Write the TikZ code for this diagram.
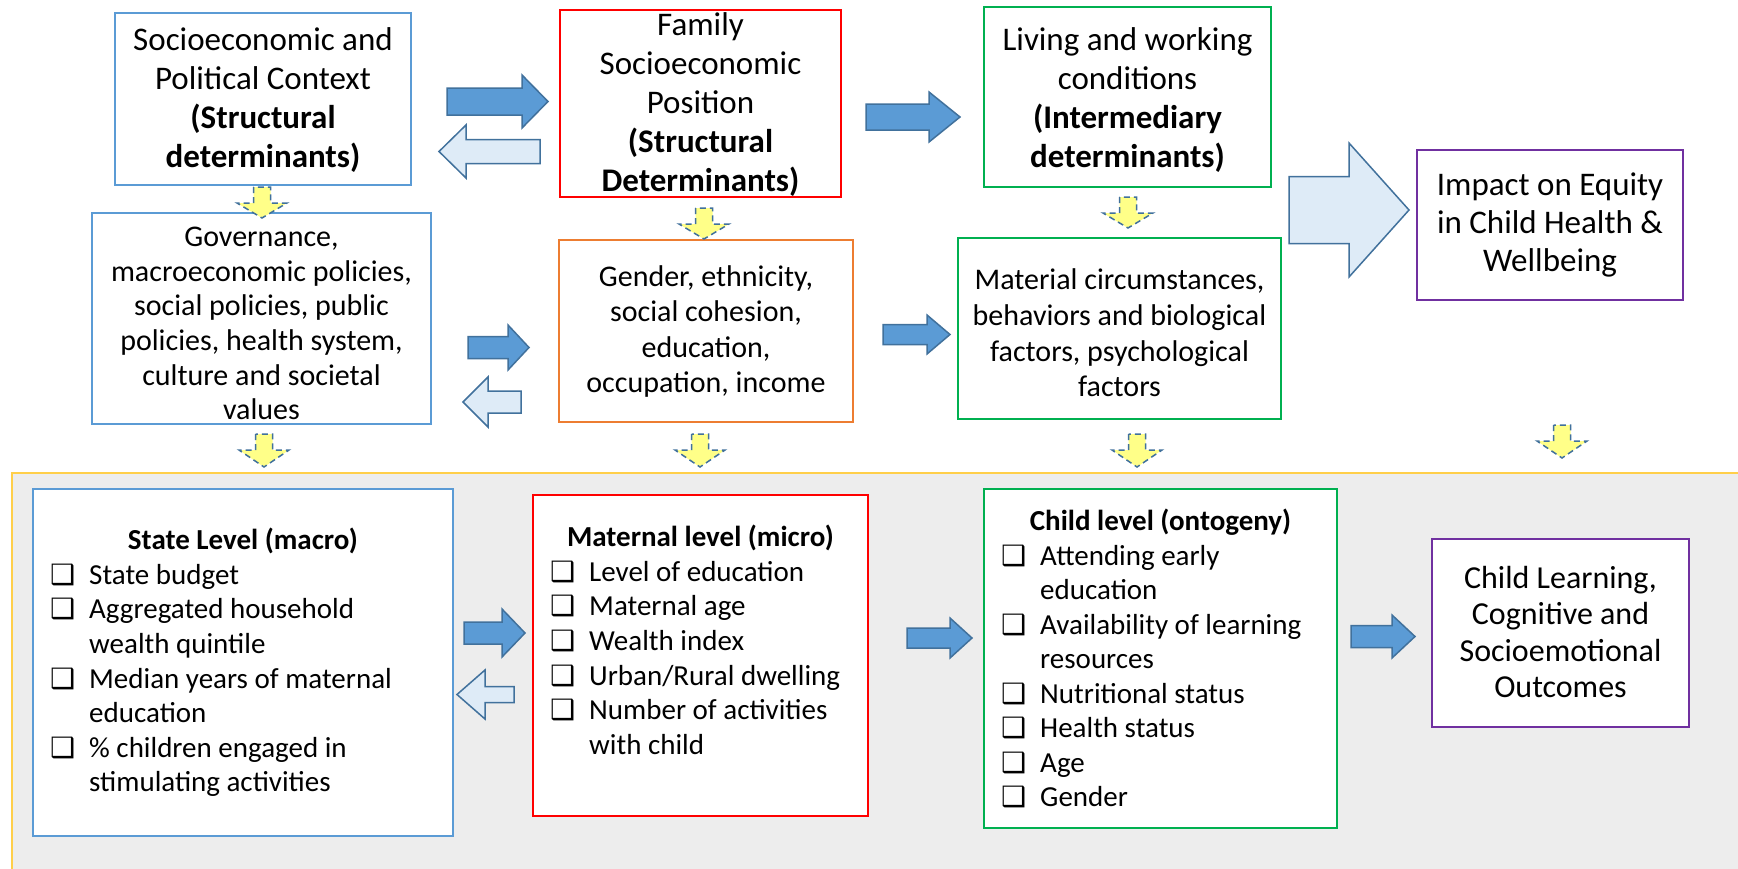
\documentclass[tikz,border=0pt]{standalone}
\usepackage{fontspec}
\setmainfont{Carlito}
\newfontfamily\dejavu{DejaVu Sans}
\definecolor{bxblue}{HTML}{5B9BD5}
\definecolor{bxred}{HTML}{FF0000}
\definecolor{bxgreen}{HTML}{00B050}
\definecolor{bxorange}{HTML}{ED7D31}
\definecolor{bxpurple}{HTML}{7030A0}
\definecolor{arrdark}{HTML}{5B9BD5}
\definecolor{arrlight}{HTML}{DEEBF7}
\definecolor{arrline}{HTML}{41719C}
\definecolor{yel}{HTML}{FFFF88}
\definecolor{bggray}{HTML}{EDEDED}
\definecolor{bgline}{HTML}{FFCF4A}
% horizontal block arrow: style, tail x, head-start x, tip x, centre y, head half-width, shaft half-width
\newcommand\harrow[7]{\path[#1] (#2,{#5-#7}) -- (#3,{#5-#7}) -- (#3,{#5-#6}) -- (#4,#5) -- (#3,{#5+#6}) -- (#3,{#5+#7}) -- (#2,{#5+#7}) -- cycle;}
% vertical block arrow: style, tail y, head-start y, tip y, centre x, head half-width, shaft half-width
\newcommand\varrow[7]{\path[#1] ({#5-#7},#2) -- ({#5-#7},#3) -- ({#5-#6},#3) -- (#5,#4) -- ({#5+#6},#3) -- ({#5+#7},#3) -- ({#5+#7},#2) -- cycle;}
\newcommand\cbx{{\dejavu\bfseries\fontsize{28pt}{28pt}\selectfont ❑}}
\newcommand\itm[1]{\strut\makebox[39pt][l]{\cbx}#1}
\newcommand\cnt[1]{\strut\hspace*{39pt}#1}
\begin{document}
\begin{tikzpicture}[x=1pt,y=-1pt,
  box/.style={draw=#1, line width=2pt, fill=white, inner sep=0pt},
  toptxt/.style={align=center, inner sep=0pt, font=\fontsize{33pt}{39pt}\selectfont},
  midtxt/.style={align=center, inner sep=0pt, font=\fontsize{30pt}{34.6pt}\selectfont},
  listtxt/.style={align=left, inner sep=0pt, anchor=north west, font=\fontsize{29pt}{34.6pt}\selectfont},
  titletxt/.style={inner sep=0pt, anchor=base, font=\fontsize{29pt}{34.6pt}\selectfont\bfseries},
  darkarr/.style={fill=arrdark, draw=arrline, line width=1.5pt, line join=miter},
  lightarr/.style={fill=arrlight, draw=arrline, line width=1.5pt, line join=miter},
  yelarr/.style={fill=yel, draw=arrline, line width=1.5pt, dash pattern=on 6pt off 4pt}]
\useasboundingbox (0,0) rectangle (1738,868);
\fill[white] (0,0) rectangle (1738,868);
% grey band
\fill[bggray] (12,473) rectangle (1740,870);
\draw[bgline, line width=1.5pt] (12,870) -- (12,473) -- (1740,473);

% ---------- top row ----------
\node[box=bxblue, minimum width=296pt, minimum height=172pt] (socio) at (263,99) {};
\node[toptxt] (sociot) at (263,100) {Socioeconomic and\\Political Context\\\textbf{(Structural}\\\textbf{determinants)}};
\node[box=bxred, minimum width=281pt, minimum height=187pt] (family) at (700.5,103.5) {};
\node[toptxt] (familyt) at (700.5,105) {Family\\Socioeconomic\\Position\\\textbf{(Structural}\\\textbf{Determinants)}};
\node[box=bxgreen, minimum width=287pt, minimum height=180pt] (living) at (1127.5,97) {};
\node[toptxt] (livingt) at (1127.5,100) {Living and working\\conditions\\\textbf{(Intermediary}\\\textbf{determinants)}};
\node[box=bxpurple, minimum width=266pt, minimum height=150pt] (impact) at (1550,225) {};
\node[toptxt, font=\fontsize{33pt}{38pt}\selectfont] (impactt) at (1550,225) {Impact on Equity\\in Child Health \&\\Wellbeing};

% ---------- middle row ----------
\node[box=bxblue, minimum width=339pt, minimum height=211pt] (gov) at (261.5,318.5) {};
\node[midtxt] (govt) at (261.5,323.5) {Governance,\\macroeconomic policies,\\social policies, public\\policies, health system,\\culture and societal\\values};
\node[box=bxorange, minimum width=294pt, minimum height=182pt] (gender) at (706,331) {};
\node[midtxt, font=\fontsize{30pt}{35.6pt}\selectfont] (gendert) at (706,331.5) {Gender, ethnicity,\\social cohesion,\\education,\\occupation, income};
\node[box=bxgreen, minimum width=323pt, minimum height=181pt] (material) at (1119.5,328.5) {};
\node[midtxt, font=\fontsize{30pt}{35.6pt}\selectfont] (materialt) at (1119.5,333) {Material circumstances,\\behaviors and biological\\factors, psychological\\factors};

% ---------- bottom row ----------
\node[box=bxblue, minimum width=420pt, minimum height=347pt] (state) at (243,662.5) {};
\node[titletxt] (statet) at (243,549) {State Level (macro)};
\node[listtxt] (statel) at (50,{584-0.7*34.6}) {\itm{State budget}\\\itm{Aggregated household}\\\cnt{wealth quintile}\\\itm{Median years of maternal}\\\cnt{education}\\\itm{\% children engaged in}\\\cnt{stimulating activities}};

\node[box=bxred, minimum width=335pt, minimum height=321pt] (maternal) at (700.5,655.5) {};
\node[titletxt] (maternalt) at (700.5,546) {Maternal level (micro)};
\node[listtxt] (maternall) at (550,{581-0.7*34.6}) {\itm{Level of education}\\\itm{Maternal age}\\\itm{Wealth index}\\\itm{Urban/Rural dwelling}\\\itm{Number of activities}\\\cnt{with child}};

\node[box=bxgreen, minimum width=353pt, minimum height=339pt] (child) at (1160.5,658.5) {};
\node[titletxt] (childt) at (1160.5,530) {Child level (ontogeny)};
\node[listtxt, font=\fontsize{29pt}{34.5pt}\selectfont] (childl) at (1001,{565-0.7*34.5}) {\itm{Attending early}\\\cnt{education}\\\itm{Availability of learning}\\\cnt{resources}\\\itm{Nutritional status}\\\itm{Health status}\\\itm{Age}\\\itm{Gender}};

\node[box=bxpurple, minimum width=257pt, minimum height=188pt] (learn) at (1560.5,633) {};
\node[toptxt, font=\fontsize{32pt}{36.6pt}\selectfont] (learnt) at (1560.5,632) {Child Learning,\\Cognitive and\\Socioemotional\\Outcomes};

% ---------- block arrows ----------
\harrow{darkarr}{447}{522}{548}{101.5}{26.5}{13.5}
\harrow{lightarr}{540}{466}{439}{151.5}{26.5}{12}
\harrow{darkarr}{866}{929}{960}{117}{25}{13}
\harrow{lightarr}{1289}{1349}{1409}{210}{67}{33.5}
\harrow{darkarr}{468}{508}{529}{347.5}{22.5}{11}
\harrow{lightarr}{521}{488}{463}{402}{25}{11}
\harrow{darkarr}{883}{927}{950}{334.5}{19.5}{10}
\harrow{darkarr}{464}{502}{525}{633}{24}{11}
\harrow{lightarr}{514}{485}{457}{694.5}{24.5}{8}
\harrow{darkarr}{907}{950}{972}{638}{20}{10}
\harrow{darkarr}{1351}{1392}{1415}{636.5}{21.5}{11}

% ---------- yellow dashed down arrows ----------
\varrow{yelarr}{187}{203}{218}{262}{25}{8.5}
\varrow{yelarr}{208}{224}{239}{704}{25}{8.5}
\varrow{yelarr}{197}{213}{228}{1128}{25}{8.5}
\varrow{yelarr}{434}{450}{467}{264}{25}{8.5}
\varrow{yelarr}{434}{450}{467}{700}{25}{8.5}
\varrow{yelarr}{434}{450}{467}{1137}{25}{8.5}
\varrow{yelarr}{425}{441}{458}{1562}{25}{8.5}
\end{tikzpicture}
\end{document}
